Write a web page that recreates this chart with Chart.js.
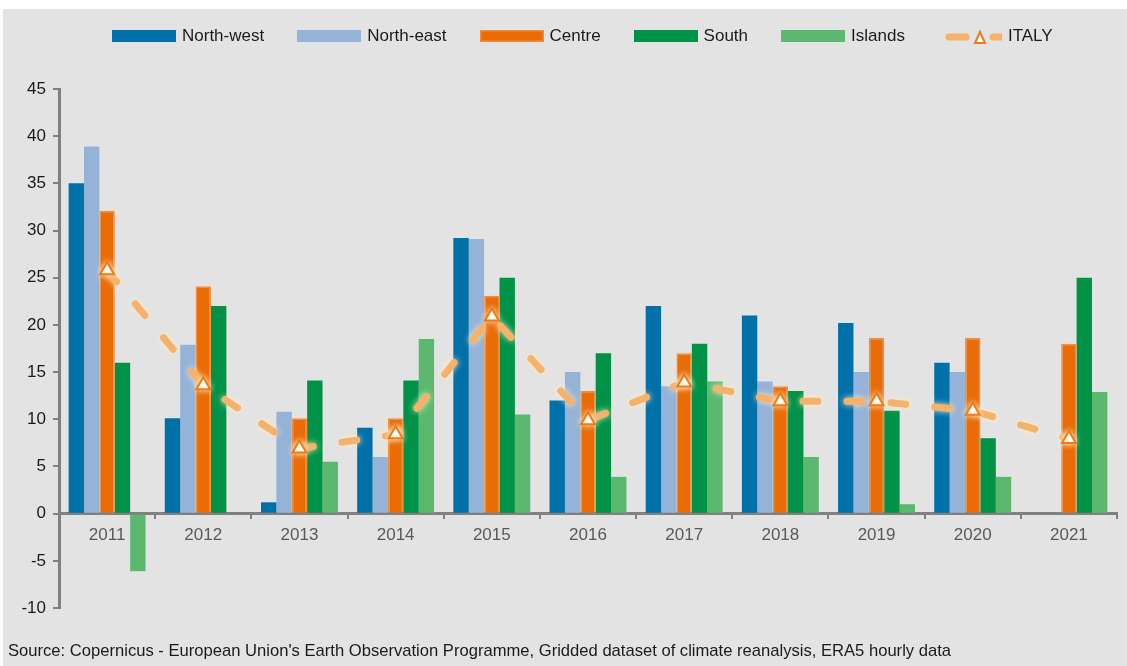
<!DOCTYPE html>
<html>
<head>
<meta charset="utf-8">
<script src="https://cdn.jsdelivr.net/npm/chart.js@4/dist/chart.umd.min.js"></script>
<style>
    body { margin: 0; background: #ffffff; font-family: "Liberation Sans", Arial, sans-serif; }
    #wrap { position: absolute; left: 3px; top: 9px; width: 1124px; height: 657px; background: #e3e3e3; }
    #chart { position: absolute; left: 0; top: 0; }
    #legend { position: absolute; left: 109px; top: 17px; display: flex; align-items: center; }
    .item { display: flex; align-items: center; margin-right: 33px; font-size: 17px; color: #1a1a1a; }
    .item canvas { margin-right: 6px; }
    #source { position: absolute; left: 5px; top: 632px; font-size: 16.6px; color: #1a1a1a; white-space: nowrap; }
</style>
</head>
<body>
<div id="wrap">
    <canvas id="chart" width="1124" height="657"></canvas>
    <div id="legend"></div>
    <div id="source">Source: Copernicus - European Union's Earth Observation Programme, Gridded dataset of climate reanalysis, ERA5 hourly data</div>
</div>
<script>
const years = ['2011', '2012', '2013', '2014', '2015', '2016', '2017', '2018', '2019', '2020', '2021'];
const northWest = [35, 10.1, 1.2, 9.1, 29.2, 12, 22, 21, 20.2, 16, null];
const northEast = [38.9, 17.9, 10.8, 6, 29.1, 15, 13.5, 14, 15, 15, null];
const centre = [32.1, 24.1, 10.1, 10.1, 23.1, 13, 17, 13.5, 18.6, 18.6, 18];
const south = [16, 22, 14.1, 14.1, 25, 17, 18, 13, 10.9, 8, 25];
const islands = [-6.1, null, 5.5, 18.5, 10.5, 3.9, 14, 6, 1, 3.9, 12.9];
const italy = [25.8, 13.6, 6.9, 8.4, 20.9, 9.9, 13.9, 11.9, 11.9, 10.9, 7.9];
const yTicks = [-10, -5, 0, 5, 10, 15, 20, 25, 30, 35, 40, 45];

const axisGrey = '#808080';
const lineOrange = '#f6b16a';
const markerOrange = '#ee7a1c';

const bar = (label, data, color, border) => ({
    type: 'bar',
    label: label,
    data: data,
    backgroundColor: color,
    borderColor: border || color,
    borderWidth: border ? 1.5 : 0,
    categoryPercentage: 0.8,
    barPercentage: 1.0
});

const datasets = [
    bar('North-west', northWest, '#0070a8'),
    bar('North-east', northEast, '#95b3d7'),
    bar('Centre', centre, '#e96c07', '#f28c3a'),
    bar('South', south, '#009246'),
    bar('Islands', islands, '#5cb86f'),
    {
        type: 'line',
        label: 'ITALY',
        data: italy,
        order: -1,
        borderColor: lineOrange,
        borderWidth: 7,
        borderDash: [15, 29],
        borderCapStyle: 'round',
        pointStyle: 'triangle',
        pointRadius: 8,
        pointBorderWidth: 2,
        pointBorderColor: markerOrange,
        pointBackgroundColor: '#ffffff'
    }
];

// soft halo round the ITALY markers
const markerGlow = {
    id: 'markerGlow',
    beforeDatasetDraw(chart, args) {
        if (args.meta.type === 'line') {
            chart.ctx.save();
            chart.ctx.shadowColor = 'rgba(255, 240, 200, 0.9)';
            chart.ctx.shadowBlur = 6;
        }
    },
    afterDatasetDraw(chart, args) {
        if (args.meta.type === 'line') chart.ctx.restore();
    }
};

const chart = new Chart(document.getElementById('chart').getContext('2d'), {
    data: { labels: years, datasets: datasets },
    options: {
        responsive: false,
        animation: false,
        layout: { padding: { top: 80, left: 0, right: 0, bottom: 58 } },
        plugins: {
            legend: { display: false },
            tooltip: { enabled: false }
        },
        scales: {
            x: {
                position: { y: 0 },
                offset: true,
                grid: { drawOnChartArea: false, drawTicks: true, tickLength: 4, color: axisGrey, lineWidth: 2, offset: true },
                border: { color: axisGrey, width: 3 },
                ticks: { color: '#595959', font: { family: 'Liberation Sans', size: 17 }, padding: 7 }
            },
            y: {
                min: -10,
                max: 45,
                afterBuildTicks: (scale) => { scale.ticks = yTicks.map(v => ({ value: v })); },
                afterFit: (scale) => { scale.width = 56; },
                grid: { drawOnChartArea: false, drawTicks: true, tickLength: 6, color: axisGrey, lineWidth: 2 },
                border: { color: axisGrey, width: 3 },
                ticks: { color: '#1a1a1a', font: { family: 'Liberation Sans', size: 17 }, padding: 7 }
            }
        }
    },
    plugins: [markerGlow]
});

// legend built from the datasets
function swatch(ds) {
    const c = document.createElement('canvas');
    c.width = 64;
    c.height = 16;
    const ctx = c.getContext('2d');
    if (ds.type === 'bar') {
        ctx.fillStyle = ds.backgroundColor;
        ctx.fillRect(0, 2, 64, 12);
        if (ds.borderWidth) {
            ctx.strokeStyle = ds.borderColor;
            ctx.lineWidth = 1.5;
            ctx.strokeRect(0.75, 2.75, 62.5, 10.5);
        }
    } else {
        ctx.strokeStyle = ds.borderColor;
        ctx.lineWidth = 7;
        ctx.lineCap = 'round';
        ctx.beginPath();
        ctx.moveTo(11, 9); ctx.lineTo(28, 9);
        ctx.moveTo(55, 9); ctx.lineTo(72, 9);
        ctx.stroke();
        ctx.beginPath();
        ctx.moveTo(37, 15); ctx.lineTo(42, 4); ctx.lineTo(47, 15); ctx.closePath();
        ctx.fillStyle = '#ffffff';
        ctx.fill();
        ctx.strokeStyle = ds.pointBorderColor;
        ctx.lineWidth = 2;
        ctx.stroke();
    }
    return c;
}

const legendDiv = document.getElementById('legend');
chart.data.datasets.forEach(ds => {
    const item = document.createElement('div');
    item.className = 'item';
    item.appendChild(swatch(ds));
    const span = document.createElement('span');
    span.textContent = ds.label;
    item.appendChild(span);
    legendDiv.appendChild(item);
});
</script>
</body>
</html>
